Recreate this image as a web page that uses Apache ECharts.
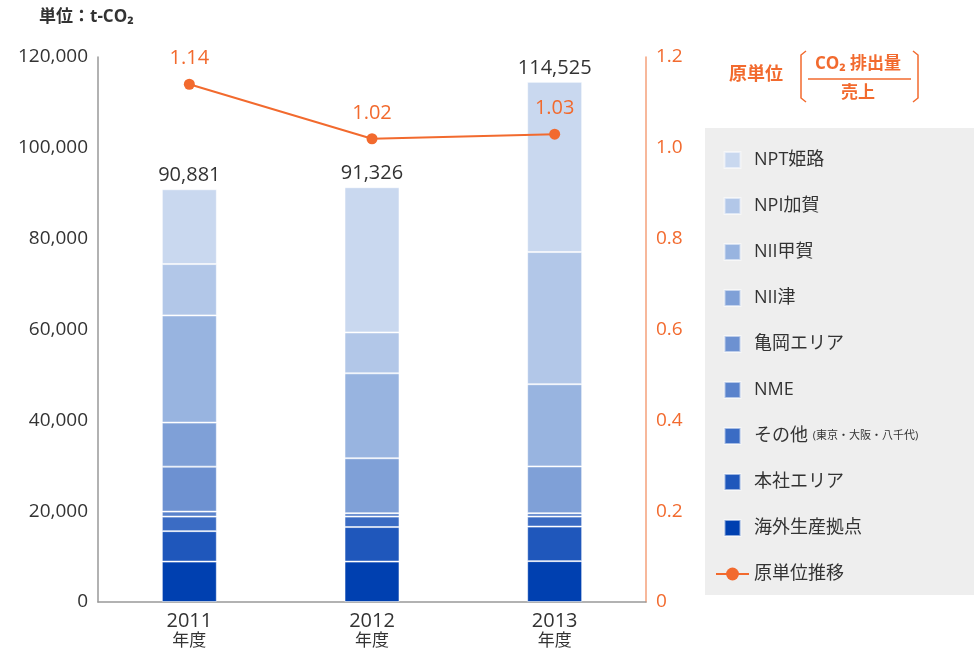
<!DOCTYPE html>
<html>
<head>
<meta charset="utf-8">
<script src="https://cdn.jsdelivr.net/npm/echarts@6/dist/echarts.min.js"></script>
<style>
html,body{margin:0;padding:0;background:#fff;}
#main{width:974px;height:653px;}
</style>
</head>
<body>
<div id="main"></div>
<script>
// ---- data ----
const categories = ['2011', '2012', '2013'];
const kaigai    = [8900, 8900, 9000];     // 海外生産拠点
const honsha    = [6700, 7600, 7600];     // 本社エリア
const sonota    = [3200, 2300, 2200];     // その他
const nme       = [1100, 750, 750];       // NME
const kameoka   = [9900, 0, 0];           // 亀岡エリア
const niiTsu    = [9700, 12100, 10300];   // NII津
const niiKoka   = [23600, 18700, 18100];  // NII甲賀
const npiKaga   = [11300, 9000, 29100];   // NPI加賀
const nptHimeji = [16481, 31976, 37475];  // NPT姫路
const totals    = [90881, 91326, 114525];
const intensity = [1.14, 1.02, 1.03];     // 原単位推移
const leftTicks = { min: 0, max: 120000, interval: 20000 };
const rightTicks = { min: 0, max: 1.2, interval: 0.2 };

const FONT = "'Open Sans', 'Noto Sans CJK JP', sans-serif";
const ORANGE = '#f26a2e';
const TEXT = '#333333';

const barDefs = [
  { name: '海外生産拠点', data: kaigai,    color: '#0040b0' },
  { name: '本社エリア',   data: honsha,    color: '#1f57bb' },
  { name: 'その他',       data: sonota,    color: '#3b6cc4' },
  { name: 'NME',          data: nme,       color: '#5a83cc' },
  { name: '亀岡エリア',   data: kameoka,   color: '#6d91d1' },
  { name: 'NII津',        data: niiTsu,    color: '#7fa0d7' },
  { name: 'NII甲賀',      data: niiKoka,   color: '#98b4e0' },
  { name: 'NPI加賀',      data: npiKaga,   color: '#b2c7e8' },
  { name: 'NPT姫路',      data: nptHimeji, color: '#c9d8ef' }
];

const fmt = v => v.toLocaleString('en-US');

const series = barDefs.map((d, i) => {
  const s = {
    name: d.name,
    type: 'bar',
    stack: 'total',
    barWidth: 55,
    data: d.data,
    itemStyle: { color: d.color, borderColor: 'rgba(255,255,255,0.55)', borderWidth: 1 },
    emphasis: { disabled: true }
  };
  if (i === barDefs.length - 1) {
    s.label = {
      show: true, position: 'top', distance: 4,
      fontFamily: FONT, fontSize: 20, color: TEXT,
      formatter: p => fmt(totals[p.dataIndex])
    };
  }
  return s;
});

series.push({
  name: '原単位推移',
  type: 'line',
  yAxisIndex: 1,
  data: intensity,
  symbol: 'circle',
  symbolSize: 11,
  lineStyle: { color: ORANGE, width: 2 },
  itemStyle: { color: ORANGE },
  label: {
    show: true, position: 'top', distance: 10,
    fontFamily: FONT, fontSize: 20, color: ORANGE,
    formatter: p => p.value.toFixed(2)
  },
  z: 5
});

const squareIcon = 'path://M0,0L10,0L10,10L0,10Z';
const legendData = barDefs.slice().reverse().map(d => ({ name: d.name, icon: squareIcon }));
legendData.push({ name: '原単位推移' });

const option = {
  animation: false,
  textStyle: { fontFamily: FONT },
  grid: { left: 98, right: 328, top: 57, bottom: 51, containLabel: false },
  xAxis: {
    type: 'category',
    data: categories,
    axisLine: { lineStyle: { color: '#999', width: 1.5 } },
    axisTick: { show: false },
    axisLabel: {
      margin: 9,
      formatter: v => '{y|' + v + '}\n{n|年度}',
      rich: {
        y: { fontFamily: FONT, fontSize: 20, color: TEXT, lineHeight: 21 },
        n: { fontFamily: FONT, fontSize: 17, color: TEXT, lineHeight: 19 }
      }
    }
  },
  yAxis: [
    {
      type: 'value',
      min: leftTicks.min, max: leftTicks.max, interval: leftTicks.interval,
      axisLine: { show: true, lineStyle: { color: '#999', width: 1.5 } },
      axisTick: { show: false },
      splitLine: { show: false },
      axisLabel: { fontFamily: FONT, fontSize: 19, color: TEXT, margin: 10, formatter: v => fmt(v) }
    },
    {
      type: 'value',
      min: rightTicks.min, max: rightTicks.max, interval: rightTicks.interval,
      position: 'right',
      axisLine: { show: true, lineStyle: { color: '#f5a07a', width: 1.5 } },
      axisTick: { show: false },
      splitLine: { show: false },
      axisLabel: { fontFamily: FONT, fontSize: 19, color: ORANGE, margin: 10,
        formatter: v => v === 0 ? '0' : v.toFixed(1) }
    }
  ],
  legend: {
    orient: 'vertical',
    left: 710,
    top: 146,
    itemWidth: 33,
    itemHeight: 16,
    itemGap: 28,
    selectedMode: false,
    data: legendData,
    textStyle: {
      fontFamily: FONT, fontSize: 18, color: TEXT, lineHeight: 18,
      rich: {
        m: { fontFamily: FONT, fontSize: 18, color: TEXT },
        s: { fontFamily: FONT, fontSize: 11, color: TEXT }
      }
    },
    formatter: name => name === 'その他' ? '{m|その他} {s|(東京・大阪・八千代)}' : name,
    z: 10
  },
  graphic: [
    { type: 'rect', z: -1, shape: { x: 705, y: 128, width: 269, height: 467 }, style: { fill: '#eeeeee' } },
    { type: 'text', left: 39, top: 9, style: { text: '単位：t-CO₂', fontFamily: FONT, fontSize: 17, fontWeight: 'bold', fill: TEXT } },
    { type: 'text', x: 729, y: 75, style: { text: '原単位', fontFamily: FONT, fontSize: 18, fontWeight: 'bold', fill: ORANGE, textVerticalAlign: 'middle' } },
    { type: 'polyline', shape: { points: [[806, 51], [801, 55], [801, 98], [806, 102]] }, style: { stroke: ORANGE, lineWidth: 1.5, fill: null } },
    { type: 'polyline', shape: { points: [[913, 51], [918, 55], [918, 98], [913, 102]] }, style: { stroke: ORANGE, lineWidth: 1.5, fill: null } },
    { type: 'line', shape: { x1: 808, y1: 79, x2: 911, y2: 79 }, style: { stroke: ORANGE, lineWidth: 1.5 } },
    { type: 'text', x: 858, y: 64, style: { text: 'CO₂ 排出量', fontFamily: FONT, fontSize: 17, fontWeight: 'bold', fill: ORANGE, textAlign: 'center', textVerticalAlign: 'middle' } },
    { type: 'text', x: 858, y: 93, style: { text: '売上', fontFamily: FONT, fontSize: 17, fontWeight: 'bold', fill: ORANGE, textAlign: 'center', textVerticalAlign: 'middle' } }
  ],
  series: series
};

const chart = echarts.init(document.getElementById('main'), null, { renderer: 'canvas' });
chart.setOption(option);
</script>
</body>
</html>
